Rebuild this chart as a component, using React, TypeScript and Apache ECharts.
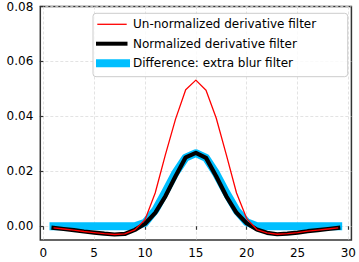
import React, { useEffect, useRef } from "react";
import * as echarts from "echarts";

const xValues = [1, 2, 3, 4, 5, 6, 7, 8, 9, 10, 11, 12, 13, 14, 15, 16, 17, 18, 19, 20, 21, 22, 23, 24, 25, 26, 27, 28, 29];

const unNormalized = [
  -0.0006, -0.001, -0.0014, -0.0019, -0.0023, -0.0027, -0.003, -0.0028, -0.0013,
  0.0024, 0.0121, 0.026, 0.039, 0.0497, 0.0532, 0.0495, 0.0394, 0.026, 0.0121, 0.0028,
  -0.0012, -0.0024, -0.0029, -0.0027, -0.0023, -0.0018, -0.0014, -0.001, -0.0006,
];

const normalized = [
  -0.0006, -0.001, -0.0014, -0.0019, -0.0023, -0.0027, -0.003, -0.0028, -0.0013,
  0.0009, 0.0049, 0.0109, 0.0182, 0.0251, 0.0267, 0.0249, 0.0182, 0.0109, 0.0049, 0.0011,
  -0.0012, -0.0024, -0.0029, -0.0027, -0.0023, -0.0018, -0.0014, -0.001, -0.0006,
];

const difference = [
  0, 0, 0, 0, 0, 0, 0, 0, 0,
  0.0013, 0.0058, 0.0125, 0.0195, 0.025, 0.0266, 0.0249, 0.0192, 0.0122, 0.0058, 0.0015,
  0, 0, 0, 0, 0, 0, 0, 0, 0,
];

const xTicks = [0, 5, 10, 15, 20, 25, 30];
const yTicks = [0, 0.02, 0.04, 0.06, 0.08];

const names = ["Un-normalized derivative filter", "Normalized derivative filter", "Difference: extra blur filter"];
const colors = ["#ff0000", "#000000", "#00bfff"];
const widths = [1.3, 4.2, 8];

const FONT = "DejaVu Sans";

export default function App() {
  const ref = useRef<HTMLDivElement>(null);
  useEffect(() => {
    if (!ref.current) return;
    const chart = echarts.init(ref.current, null, { renderer: "svg" });
    const pairs = (ys: number[]) => xValues.map((x, i) => [x, ys[i]]);

    const legendRows = [24.3, 43.7, 63.3];
    const legendLineX = [
      [97.3, 126.7],
      [96, 127.5],
      [96, 130],
    ];
    const legendGraphics: any[] = [
      {
        type: "rect",
        shape: { x: 93, y: 13.3, width: 254.7, height: 63.4, r: 3 },
        style: { fill: "rgba(255,255,255,0.8)", stroke: "#cccccc", lineWidth: 1 },
        z: 10,
      },
    ];
    names.forEach((n, i) => {
      legendGraphics.push({
        type: "line",
        shape: { x1: legendLineX[i][0], y1: legendRows[i], x2: legendLineX[i][1], y2: legendRows[i] },
        style: { stroke: colors[i], lineWidth: i === 1 ? 4 : widths[i], lineCap: "butt" },
        z: 11,
      });
      legendGraphics.push({
        type: "text",
        x: 133,
        y: legendRows[i],
        style: {
          text: n,
          fill: "#000",
          fontSize: 12,
          fontFamily: FONT,
          verticalAlign: "middle",
          align: "left",
        },
        z: 11,
      });
    });

    chart.setOption({
      animation: false,
      backgroundColor: "#fff",
      textStyle: { fontFamily: FONT },
      grid: {
        left: 40.3,
        right: 5,
        top: 6.5,
        bottom: 22,
        show: true,
        borderColor: "#333",
        borderWidth: 1.5,
        backgroundColor: "transparent",
      },
      xAxis: {
        type: "value",
        min: -0.3,
        max: 30.3,
        axisLine: { show: false },
        axisTick: { show: true, length: 3.5, customValues: xTicks, lineStyle: { color: "#333", width: 1.2 } },
        axisLabel: { customValues: xTicks, color: "#000", fontSize: 12, fontFamily: FONT, margin: 7 },
        splitLine: { show: true, lineStyle: { color: "#dcdcdc", width: 0.8, type: [3, 2] } },
      },
      yAxis: {
        type: "value",
        min: -0.005,
        max: 0.08,
        axisLine: { show: false },
        axisTick: { show: true, length: 3.5, customValues: yTicks, lineStyle: { color: "#333", width: 1.2 } },
        axisLabel: {
          customValues: yTicks,
          color: "#000",
          fontSize: 12,
          fontFamily: FONT,
          margin: 7,
          formatter: (v: number) => v.toFixed(2),
        },
        splitLine: { show: true, lineStyle: { color: "#dcdcdc", width: 0.8, type: [3, 2] } },
      },
      graphic: legendGraphics,
      series: [
        {
          name: names[2],
          type: "line",
          data: pairs(difference),
          symbol: "none",
          lineStyle: { color: colors[2], width: widths[2], cap: "square", join: "round" },
          z: 2,
        },
        {
          name: names[1],
          type: "line",
          data: pairs(normalized),
          symbol: "none",
          lineStyle: { color: colors[1], width: widths[1], cap: "square", join: "round" },
          z: 3,
        },
        {
          name: names[0],
          type: "line",
          data: pairs(unNormalized),
          symbol: "none",
          lineStyle: { color: colors[0], width: widths[0], join: "round" },
          z: 4,
        },
      ],
    });
    return () => chart.dispose();
  }, []);
  return (
    <div
      ref={ref}
      style={{ position: "fixed", left: 0, top: 0, width: 359, height: 262 }}
    />
  );
}
